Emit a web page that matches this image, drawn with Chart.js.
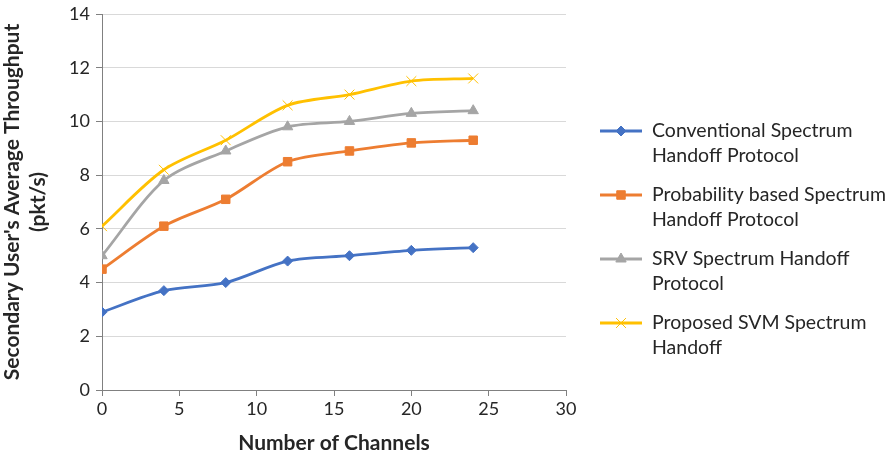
<!DOCTYPE html>
<html>
<head>
<meta charset="utf-8">
<script src="https://cdn.jsdelivr.net/npm/chart.js@4/dist/chart.umd.min.js"></script>
<style>
  html, body { margin: 0; padding: 0; background: #fff; }
  #wrap { width: 894px; height: 458px; position: relative; }
</style>
</head>
<body>
<div id="wrap"><canvas id="c" width="894" height="458"></canvas></div>
<script>
// Number of channels on the x axis
const channels = [0, 4, 8, 12, 16, 20, 24];

// Average throughput (pkt/s) for each protocol
const conventional = [2.9, 3.7, 4.0, 4.8, 5.0, 5.2, 5.3];
const probability  = [4.5, 6.1, 7.1, 8.5, 8.9, 9.2, 9.3];
const srv          = [5.0, 7.8, 8.9, 9.8, 10.0, 10.3, 10.4];
const proposed     = [6.1, 8.2, 9.3, 10.6, 11.0, 11.5, 11.6];

const seriesNames = [
  ["Conventional Spectrum", "Handoff Protocol"],
  ["Probability based Spectrum", "Handoff Protocol"],
  ["SRV Spectrum Handoff", "Protocol"],
  ["Proposed SVM Spectrum", "Handoff"]
];

const FONT = "Lato, 'Open Sans', sans-serif";

function pts(values) {
  return channels.map((x, i) => ({ x: x, y: values[i] }));
}

const styles = [
  { color: '#4472C4', pointStyle: 'rectRot', radius: 5, pw: 1 },
  { color: '#ED7D31', pointStyle: 'rect', radius: 6, pw: 1 },
  { color: '#A5A5A5', pointStyle: 'triangle', radius: 6, pw: 1 },
  { color: '#FFC000', pointStyle: 'crossRot', radius: 7, pw: 1 }
];

const allValues = [conventional, probability, srv, proposed];

const datasets = allValues.map((vals, i) => ({
  label: seriesNames[i].join(' '),
  data: pts(vals),
  borderColor: styles[i].color,
  backgroundColor: styles[i].color,
  borderWidth: 2.8,
  tension: 0.3,
  pointStyle: styles[i].pointStyle,
  pointRadius: styles[i].radius,
  pointBorderWidth: styles[i].pw,
  pointBorderColor: styles[i].color,
  pointBackgroundColor: styles[i].color
}));

// Two-line legend drawn on the right side of the canvas
const sideLegend = {
  id: 'sideLegend',
  afterDraw(chart) {
    const ctx = chart.ctx;
    const x0 = 600, x1 = 642, tx = 652;
    const startY = 131, itemGap = 64, lineGap = 25;
    ctx.save();
    ctx.font = "19.5px " + FONT;
    ctx.textBaseline = 'middle';
    ctx.textAlign = 'left';
    seriesNames.forEach((lines, i) => {
      const y = startY + i * itemGap;
      const s = styles[i];
      ctx.strokeStyle = s.color;
      ctx.lineWidth = 2.8;
      ctx.beginPath();
      ctx.moveTo(x0, y);
      ctx.lineTo(x1, y);
      ctx.stroke();
      ctx.fillStyle = s.color;
      ctx.lineWidth = s.pw;
      Chart.helpers.drawPoint(ctx, { pointStyle: s.pointStyle, radius: s.radius, borderWidth: s.pw }, (x0 + x1) / 2, y);
      ctx.fillStyle = '#262626';
      lines.forEach((t, j) => ctx.fillText(t, tx, y + j * lineGap));
    });
    ctx.restore();
  }
};

new Chart(document.getElementById('c'), {
  type: 'line',
  data: { datasets: datasets },
  plugins: [sideLegend],
  options: {
    responsive: false,
    animation: false,
    devicePixelRatio: 1,
    layout: { padding: { top: 0, right: 328, left: 0, bottom: 0 } },
    plugins: { legend: { display: false }, tooltip: { enabled: false } },
    scales: {
      x: {
        type: 'linear',
        min: 0, max: 30,
        ticks: { stepSize: 5, color: '#262626', font: { family: FONT, size: 18 }, padding: 2 },
        grid: { drawOnChartArea: false, drawTicks: true, tickLength: 6, color: '#808080' },
        border: { color: '#808080', width: 1 },
        title: { display: true, text: 'Number of Channels', color: '#262626',
                 font: { family: FONT, size: 21, weight: 'bold' }, padding: { top: 0, bottom: 2 } },
        afterFit(scale) { scale.height = 68; }
      },
      y: {
        min: 0, max: 14,
        ticks: { stepSize: 2, color: '#262626', font: { family: FONT, size: 18 }, padding: 6 },
        grid: { color: '#D9D9D9', tickColor: '#808080', tickLength: 6, lineWidth: 1 },
        border: { color: '#808080', width: 1 },
        title: { display: true, text: ["Secondary User's Average Throughput", "(pkt/s)"], color: '#262626',
                 font: { family: FONT, size: 21, weight: 'bold' }, padding: 0 },
        afterFit(scale) {
          scale.width = 102;
          scale.paddingTop = 14;
          scale.paddingBottom = 0;
        }
      }
    }
  }
});
</script>
</body>
</html>
